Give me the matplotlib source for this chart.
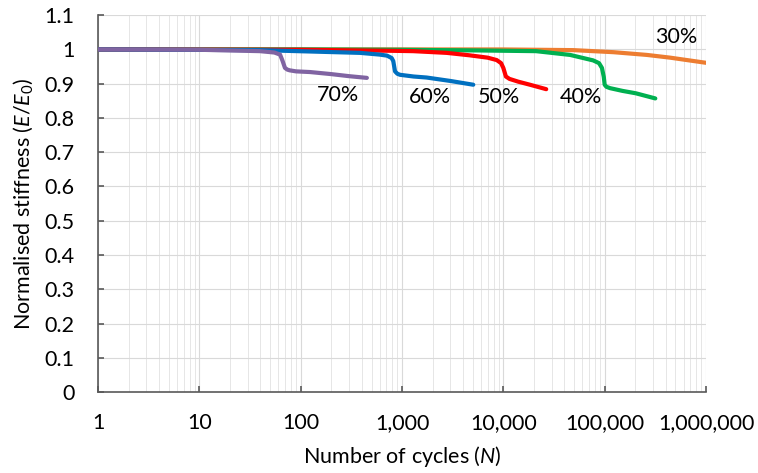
import matplotlib
matplotlib.use("Agg")
import matplotlib.pyplot as plt
from matplotlib.ticker import FixedLocator, LogLocator, NullFormatter, FuncFormatter

plt.rcParams["font.family"] = ["Lato", "DejaVu Sans"]
plt.rcParams["mathtext.fontset"] = "custom"
plt.rcParams["mathtext.rm"] = "Lato"
plt.rcParams["mathtext.it"] = "Lato:italic"

# Stiffness degradation curves, one per load level (% of static strength)
n_30 = [1, 100, 10000, 49000, 122000, 261000, 443000, 1000000]
e_30 = [1.0, 1.0, 1.0, 0.998, 0.992, 0.984, 0.976, 0.961]

n_40 = [1, 100, 1000, 5900, 21000, 45600, 77000, 88000, 94000, 98000, 100000,
        104000, 113000, 150000, 203000, 316000]
e_40 = [1.0, 1.0, 0.999, 0.997, 0.995, 0.984, 0.968, 0.960, 0.946, 0.920, 0.897,
        0.891, 0.887, 0.879, 0.872, 0.857]

n_50 = [1, 100, 810, 1290, 2760, 4600, 7000, 8600, 9500, 10000, 10600, 11500,
        14000, 18300, 26500]
e_50 = [1.0, 0.999, 0.996, 0.995, 0.990, 0.983, 0.976, 0.969, 0.960, 0.946, 0.921,
        0.914, 0.906, 0.897, 0.884]

n_60 = [1, 40, 385, 600, 710, 790, 820, 853, 900, 956, 1300, 1750, 3000, 5050]
e_60 = [1.0, 0.998, 0.990, 0.985, 0.982, 0.975, 0.966, 0.936, 0.929, 0.926, 0.921,
        0.918, 0.908, 0.897]

n_70 = [1, 10, 39.7, 55, 62.6, 66, 70, 74, 78, 90, 124, 200, 300, 450]
e_70 = [1.0, 0.999, 0.995, 0.991, 0.985, 0.968, 0.946, 0.941, 0.939, 0.936, 0.934,
        0.928, 0.922, 0.917]

series = [
    ("30%", n_30, e_30, "#ED7D31", (510000, 1.037)),
    ("40%", n_40, e_40, "#00B050", (58500, 0.862)),
    ("50%", n_50, e_50, "#FF0000", (9100, 0.862)),
    ("60%", n_60, e_60, "#0070C0", (1900, 0.862)),
    ("70%", n_70, e_70, "#8064A2", (234, 0.867)),
]

x_ticks = [1, 10, 100, 1000, 10000, 100000, 1000000]
y_ticks = [0, 0.1, 0.2, 0.3, 0.4, 0.5, 0.6, 0.7, 0.8, 0.9, 1, 1.1]

fig = plt.figure(figsize=(7.58, 4.73), dpi=100)
ax = fig.add_axes([0.1293, 0.1712, 0.8021, 0.7967])

for label, n, e, color, (lx, ly) in series:
    ax.plot(n, e, color=color, lw=3.0, solid_capstyle="round",
            solid_joinstyle="round", zorder=3)
    ax.text(lx, ly, label, ha="center", va="center", fontsize=15.5, color="black")

ax.set_xscale("log")
ax.set_xlim(1, 1000000)
ax.set_ylim(0, 1.1)

ax.xaxis.set_major_locator(FixedLocator(x_ticks))
ax.xaxis.set_minor_locator(LogLocator(base=10, subs=range(2, 10), numticks=20))
ax.xaxis.set_minor_formatter(NullFormatter())
ax.xaxis.set_major_formatter(FuncFormatter(lambda v, p: f"{int(round(v)):,}"))
ax.yaxis.set_major_locator(FixedLocator(y_ticks))
ax.yaxis.set_major_formatter(FuncFormatter(lambda v, p: f"{v:g}"))

ax.grid(which="major", color="#D9D9D9", lw=0.8, zorder=0)
ax.grid(which="minor", axis="x", color="#E6E6E6", lw=0.7, zorder=0)
ax.set_axisbelow(True)

for side in ("top", "right"):
    ax.spines[side].set_visible(False)
for side in ("left", "bottom"):
    ax.spines[side].set_color("#595959")
    ax.spines[side].set_linewidth(1.2)

ax.tick_params(axis="both", which="major", direction="in", length=4, width=1.2,
               color="#595959", labelsize=15.5, labelcolor="black")
ax.tick_params(axis="x", which="major", pad=15)
ax.tick_params(axis="y", which="major", pad=17)
ax.tick_params(axis="x", which="minor", length=0)

ax.set_xlabel(r"Number of cycles ($\mathit{N}$)", fontsize=15.5, labelpad=8)
ax.set_ylabel(r"Normalised stiffness ($\mathit{E}$/$\mathit{E}_0$)", fontsize=15.5, labelpad=7)

fig.savefig("out.png", dpi=100)
